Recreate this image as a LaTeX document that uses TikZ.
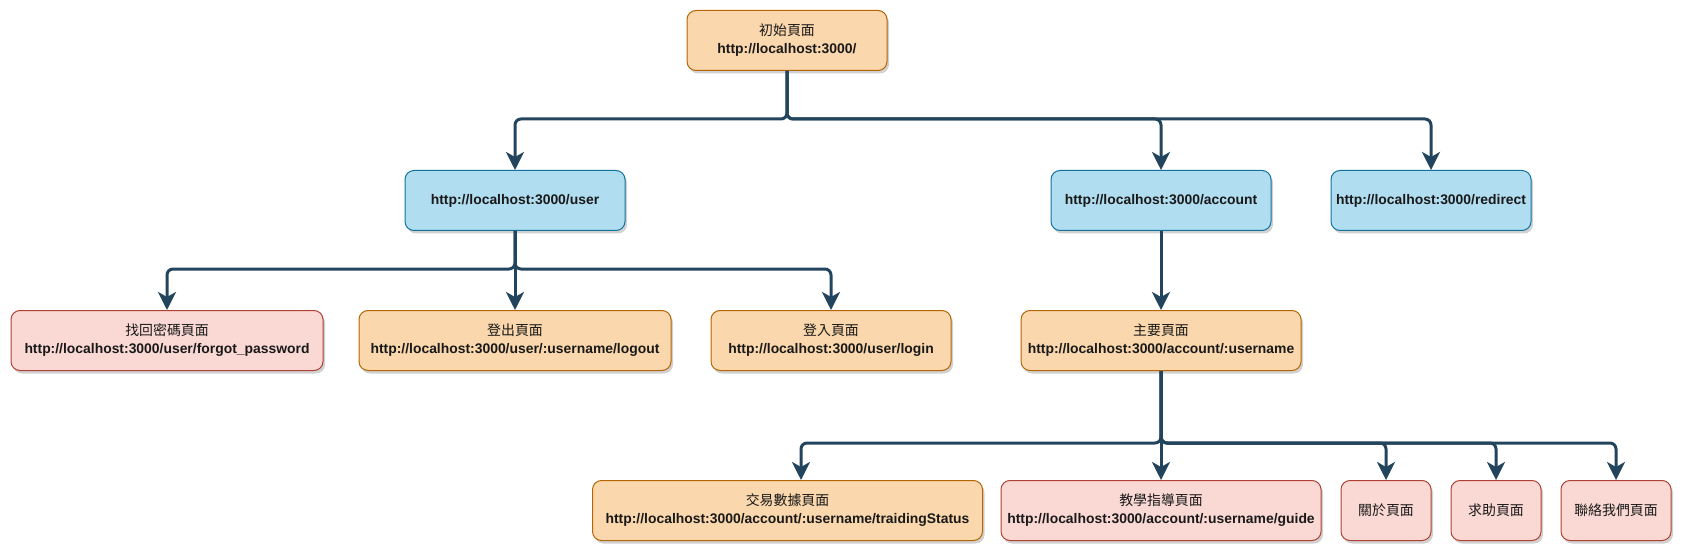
\documentclass[tikz,border=0pt]{standalone}
\usepackage{fontspec}
\setmainfont{Liberation Sans}
\newfontfamily\cjk{Noto Sans CJK TC}
\usetikzlibrary{arrows.meta,shadows}
\definecolor{orangefill}{HTML}{FAD7AC}
\definecolor{orangeline}{HTML}{B46504}
\definecolor{bluefill}{HTML}{B1DDF0}
\definecolor{blueline}{HTML}{10739E}
\definecolor{redfill}{HTML}{FAD9D5}
\definecolor{redline}{HTML}{AE4132}
\definecolor{linkcol}{HTML}{23445D}

\begin{document}
\begin{tikzpicture}[x=1pt,y=-1pt,
	page/.style={draw,rounded corners=9pt,line width=1pt,minimum height=60pt,align=center,
		font=\fontsize{13.9}{18}\selectfont,text=black!90,
		drop shadow={shadow xshift=2pt,shadow yshift=-3pt,fill=black,opacity=0.18}},
	orangebox/.style={page,fill=orangefill,draw=orangeline},
	bluebox/.style={page,fill=bluefill,draw=blueline},
	redbox/.style={page,fill=redfill,draw=redline},
	link/.style={line width=3pt,draw=linkcol,rounded corners=6pt,
		-{Stealth[length=18pt,width=18pt,inset=5pt]}}]
\useasboundingbox (0,0) rectangle (1684,556);

\node[orangebox,minimum width=200pt] (Init) at (787,40.5) {{\cjk 初始頁面}\\\textbf{http://localhost:3000/}};

\node[bluebox,minimum width=220pt] (User) at (515,200.5) {\textbf{http://localhost:3000/user}};
\node[bluebox,minimum width=220pt] (Account) at (1161,200.5) {\textbf{http://localhost:3000/account}};
\node[bluebox,minimum width=200pt] (Redirect) at (1431,200.5) {\textbf{http://localhost:3000/redirect}};

\node[redbox,minimum width=312pt] (Forgot) at (167,340.5) {{\cjk 找回密碼頁面}\\\textbf{http://localhost:3000/user/forgot\_password}};
\node[orangebox,minimum width=312pt] (Logout) at (515,340.5) {{\cjk 登出頁面}\\\textbf{http://localhost:3000/user/:username/logout}};
\node[orangebox,minimum width=240pt] (Login) at (831,340.5) {{\cjk 登入頁面}\\\textbf{http://localhost:3000/user/login}};
\node[orangebox,minimum width=280pt] (Main) at (1161,340.5) {{\cjk 主要頁面}\\\textbf{http://localhost:3000/account/:username}};

\node[orangebox,minimum width=390pt] (Trade) at (787.5,510.5) {{\cjk 交易數據頁面}\\\textbf{http://localhost:3000/account/:username/traidingStatus}};
\node[redbox,minimum width=320pt] (Guide) at (1161,510.5) {{\cjk 教學指導頁面}\\\textbf{http://localhost:3000/account/:username/guide}};
\node[redbox,minimum width=90pt] (About) at (1386,510.5) {\cjk 關於頁面};
\node[redbox,minimum width=90pt] (Help) at (1496,510.5) {\cjk 求助頁面};
\node[redbox,minimum width=110pt] (Contact) at (1616,510.5) {\cjk 聯絡我們頁面};

\coordinate (top) at (787,119);
\coordinate (mid) at (515,269);
\coordinate (low) at (1161,443);

\draw[link] (Init.south) -- (top) -| (User.north);
\draw[link] (Init.south) -- (top) -| (Account.north);
\draw[link] (Init.south) -- (top) -| (Redirect.north);

\draw[link] (User.south) -- (mid) -| (Forgot.north);
\draw[link] (User.south) -- (Logout.north);
\draw[link] (User.south) -- (mid) -| (Login.north);

\draw[link] (Account.south) -- (Main.north);

\draw[link] (Main.south) -- (low) -| ([xshift=13.5pt]Trade.north);
\draw[link] (Main.south) -- (Guide.north);
\draw[link] (Main.south) -- (low) -| (About.north);
\draw[link] (Main.south) -- (low) -| (Help.north);
\draw[link] (Main.south) -- (low) -| (Contact.north);

\end{tikzpicture}
\end{document}
